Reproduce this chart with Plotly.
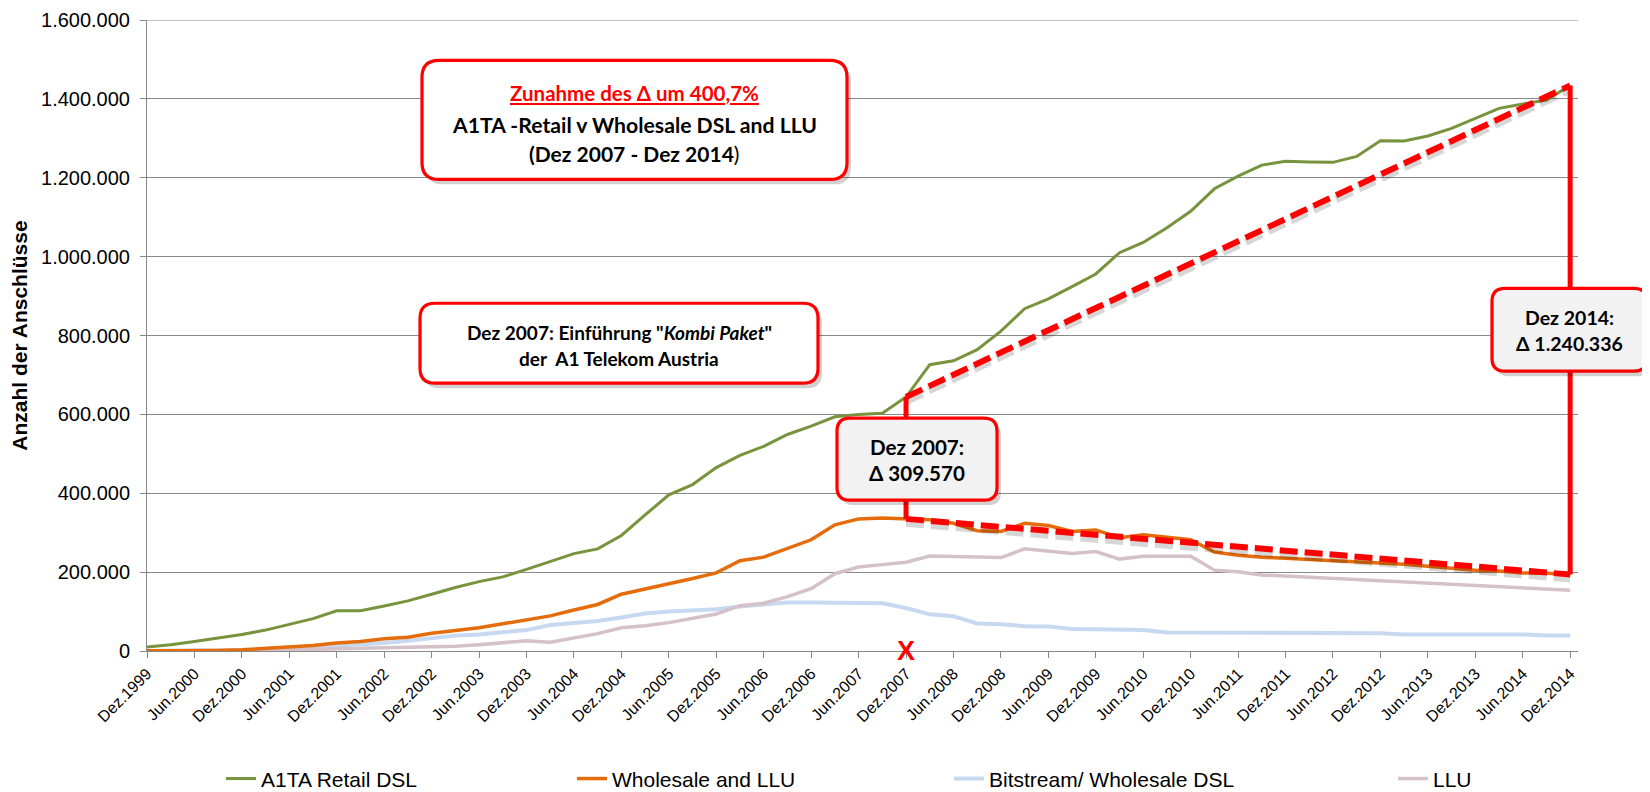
import plotly.graph_objects as go

# ---------------- data ----------------
quarters = [
    "Dez.1999",
    "Mär.2000", "Jun.2000", "Sep.2000", "Dez.2000",
    "Mär.2001", "Jun.2001", "Sep.2001", "Dez.2001",
    "Mär.2002", "Jun.2002", "Sep.2002", "Dez.2002",
    "Mär.2003", "Jun.2003", "Sep.2003", "Dez.2003",
    "Mär.2004", "Jun.2004", "Sep.2004", "Dez.2004",
    "Mär.2005", "Jun.2005", "Sep.2005", "Dez.2005",
    "Mär.2006", "Jun.2006", "Sep.2006", "Dez.2006",
    "Mär.2007", "Jun.2007", "Sep.2007", "Dez.2007",
    "Mär.2008", "Jun.2008", "Sep.2008", "Dez.2008",
    "Mär.2009", "Jun.2009", "Sep.2009", "Dez.2009",
    "Mär.2010", "Jun.2010", "Sep.2010", "Dez.2010",
    "Mär.2011", "Jun.2011", "Sep.2011", "Dez.2011",
    "Mär.2012", "Jun.2012", "Sep.2012", "Dez.2012",
    "Mär.2013", "Jun.2013", "Sep.2013", "Dez.2013",
    "Mär.2014", "Jun.2014", "Sep.2014", "Dez.2014",
]

tick_labels = [
    "Dez.1999", "Jun.2000", "Dez.2000", "Jun.2001", "Dez.2001", "Jun.2002",
    "Dez.2002", "Jun.2003", "Dez.2003", "Jun.2004", "Dez.2004", "Jun.2005",
    "Dez.2005", "Jun.2006", "Dez.2006", "Jun.2007", "Dez.2007", "Jun.2008",
    "Dez.2008", "Jun.2009", "Dez.2009", "Jun.2010", "Dez.2010", "Jun.2011",
    "Dez.2011", "Jun.2012", "Dez.2012", "Jun.2013", "Dez.2013", "Jun.2014",
    "Dez.2014",
]

retail_dsl = [
    10000, 16000, 24000, 33000, 42000, 53000, 68000, 82000, 102000, 102000,
    114000, 127000, 144000, 161000, 176000, 188000, 207000, 228000, 247000, 259000,
    293000, 345000, 396000, 422000, 465000, 496000, 519000, 549000, 570000, 594000,
    600000, 603000, 644000, 726000, 736000, 764000, 811000, 868000, 893000, 924000,
    956000, 1010000, 1036000, 1073000, 1115000, 1172000, 1204000, 1232000, 1242000, 1240000,
    1239000, 1254000, 1294000, 1293000, 1306000, 1325000, 1351000, 1376000, 1387000, 1397000,
    1434000,
]

wholesale_llu = [
    500, 500, 1000, 1500, 3000, 6000, 10000, 14000, 20000, 24000,
    31000, 35000, 45000, 52000, 59000, 69000, 80000, 89000, 104000, 118000,
    144000, 157000, 169000, 184000, 198000, 229000, 238000, 261000, 282000, 320000,
    335000, 337000, 335000, 333000, 324000, 305000, 303000, 324000, 318000, 303000,
    307000, 287000, 295000, 288000, 282000, 251000, 243000, 238000, 235000, 232000,
    230000, 228000, 224000, 220000, 215000, 209000, 205000, 203000, 198000, 197000,
    194000,
]

bitstream = [
    0, 0, 500, 1000, 2000, 4000, 7000, 10000, 13000, 17000,
    20000, 26000, 33000, 39000, 42000, 47000, 53000, 66000, 70000, 76000,
    85000, 95000, 100000, 102000, 106000, 113000, 118000, 123000, 123000, 123000,
    123000, 121000, 109000, 93000, 88000, 70000, 68000, 63000, 62000, 56000,
    55000, 53000, 53000, 47000, 47000, 46000, 45000, 45000, 45000, 45000,
    45000, 45000, 45000, 42000, 42000, 42000, 42000, 42000, 42000, 39000,
    39000,
]

llu = [
    0, 0, 500, 500, 1000, 2000, 3000, 4000, 5000, 6000,
    7000, 8000, 10000, 12000, 16000, 20000, 26000, 22000, 32000, 44000,
    59000, 64000, 72000, 84000, 94000, 115000, 121000, 138000, 158000, 196000,
    213000, 219000, 225000, 241000, 239000, 237000, 237000, 259000, 254000, 247000,
    252000, 233000, 240000, 240000, 240000, 205000, 201000, 193000, 190000, 188000,
    185000, 182000, 179000, 174000, 171000, 168000, 165000, 164000, 159000, 158000,
    154000,
]

series_names = ["A1TA Retail DSL", "Wholesale and LLU", "Bitstream/ Wholesale DSL", "LLU"]
y_ticks = [0, 200000, 400000, 600000, 800000, 1000000, 1200000, 1400000, 1600000]

start_q = "Dez.2007"
end_q = "Dez.2014"

# ---------------- styling ----------------
# the page body adds an 8px margin, so the figure is 8px smaller and all
# reference pixel positions (window coordinates) are shifted by OFF.
OFF = 8
W, H = 1650 - OFF, 792 - OFF
PL, PR, PT, PB = 147, 1578, 19.5, 651        # plot area in window pixels
Y_MAX = 1600000
SHADOW_PX = 4
GREEN = "#77933C"
ORANGE = "#E46C0A"
BLUE = "#C6D9F1"
MAUVE = "#D5C1C9"
RED = "#FF0000"
GRID = "#888888"
AX_FONT = "Liberation Sans, Arial, sans-serif"
BOX_FONT = "Lato, Carlito, Calibri, sans-serif"


def pxx(px):
    return (px - PL) / (PR - PL)


def pxy(py):
    return (PB - py) / (PB - PT)


def rrect_path(x0, y0, x1, y1, r):
    pts = [
        ("M", [(x0 + r, y0)]),
        ("L", [(x1 - r, y0)]),
        ("Q", [(x1, y0), (x1, y0 + r)]),
        ("L", [(x1, y1 - r)]),
        ("Q", [(x1, y1), (x1 - r, y1)]),
        ("L", [(x0 + r, y1)]),
        ("Q", [(x0, y1), (x0, y1 - r)]),
        ("L", [(x0, y0 + r)]),
        ("Q", [(x0, y0), (x0 + r, y0)]),
    ]
    s = ""
    for cmd, ps in pts:
        s += cmd + " ".join("%.5f,%.5f" % (pxx(a), pxy(b)) for a, b in ps) + " "
    return s + "Z"


fig = go.Figure()

i0 = quarters.index(start_q)
i1 = quarters.index(end_q)

# data lines (drawing order: light ones first)
fig.add_trace(go.Scatter(x=quarters, y=bitstream, mode="lines", name=series_names[2],
                         line=dict(color=BLUE, width=4), legend="legend3"))
fig.add_trace(go.Scatter(x=quarters, y=llu, mode="lines", name=series_names[3],
                         line=dict(color=MAUVE, width=3.5), legend="legend4"))
fig.add_trace(go.Scatter(x=quarters, y=wholesale_llu, mode="lines", name=series_names[1],
                         line=dict(color=ORANGE, width=3.5), legend="legend2"))
fig.add_trace(go.Scatter(x=quarters, y=retail_dsl, mode="lines", name=series_names[0],
                         line=dict(color=GREEN, width=3), legend="legend"))

# soft shadows of the dashed trend lines (on an overlay axis shifted a few px down)
for ser in (retail_dsl, wholesale_llu):
    fig.add_trace(go.Scatter(x=[quarters[i0], quarters[i1]], y=[ser[i0], ser[i1]],
                             yaxis="y2", mode="lines",
                             line=dict(color="rgba(0,0,0,0.16)", width=8, dash="18px,7px"),
                             showlegend=False, hoverinfo="skip"))

# vertical delta lines (overlay axis with the same scale, drawn on top)
for i in (i0, i1):
    fig.add_trace(go.Scatter(x=[quarters[i], quarters[i]], y=[retail_dsl[i], wholesale_llu[i]],
                             yaxis="y3", mode="lines", line=dict(color=RED, width=5),
                             showlegend=False, hoverinfo="skip"))

# dashed trend lines
for ser in (retail_dsl, wholesale_llu):
    fig.add_trace(go.Scatter(x=[quarters[i0], quarters[i1]], y=[ser[i0], ser[i1]],
                             yaxis="y3", mode="lines",
                             line=dict(color=RED, width=6, dash="18px,7px"),
                             showlegend=False, hoverinfo="skip"))

# ---------------- boxes ----------------
boxes = [
    # x0, y0, x1, y1, radius, fill   (window pixels)
    (422, 60, 847, 179, 17, "white"),
    (420, 303, 818, 383, 15, "white"),
    (837, 418, 997, 500, 13, "#F2F2F2"),
    (1492, 288, 1647, 371, 13, "#F2F2F2"),
]
shapes = []
for x0, y0, x1, y1, r, fill in boxes:
    shapes.append(dict(type="path", xref="paper", yref="paper", layer="above",
                       path=rrect_path(x0 + 4, y0 + 5, x1 + 4, y1 + 5, r),
                       fillcolor="rgba(0,0,0,0.18)", line=dict(width=0)))
    shapes.append(dict(type="path", xref="paper", yref="paper", layer="above",
                       path=rrect_path(x0, y0, x1, y1, r),
                       fillcolor=fill, line=dict(color=RED, width=3.2)))

texts = [
    (634, 93, "<b><u>Zunahme des Δ um 400,7%</u></b>", RED, 20.5),
    (634, 125, "<b>A1TA -Retail v Wholesale DSL and LLU</b>", "black", 21.2),
    (634, 153, "<b>(Dez 2007 - Dez 2014</b>)", "black", 21),
    (619, 332, "<b>Dez 2007: Einführung \"<i>Kombi Paket</i>\"</b>", "black", 19),
    (619, 358, "<b>der  A1 Telekom Austria</b>", "black", 19),
    (917, 447, "<b>Dez 2007:</b>", "black", 20.6),
    (917, 473, "<b>Δ 309.570</b>", "black", 20.6),
    (1569, 317, "<b>Dez 2014:</b>", "black", 19.5),
    (1569, 343, "<b>Δ 1.240.336</b>", "black", 19.5),
]
annotations = []
for x, y, t, c, s in texts:
    annotations.append(dict(x=pxx(x), y=pxy(y), xref="paper", yref="paper", text=t,
                            showarrow=False, xanchor="center", yanchor="middle",
                            font=dict(family=BOX_FONT, size=s, color=c)))

annotations.append(dict(x=start_q, y=0, xref="x", yref="paper", text="<b>X</b>",
                        showarrow=False, xanchor="center", yanchor="middle",
                        font=dict(family=AX_FONT, size=27, color=RED)))

legend_common = dict(orientation="h", yanchor="middle", xanchor="left", y=pxy(779),
                     font=dict(family=AX_FONT, size=21, color="black"),
                     bgcolor="rgba(0,0,0,0)", borderwidth=0)

shadow_shift = SHADOW_PX * Y_MAX / (PB - PT)
hidden_axis = dict(overlaying="y", visible=False, showgrid=False, zeroline=False,
                   fixedrange=True)

fig.update_layout(
    width=W, height=H,
    margin=dict(l=PL - OFF, r=W - (PR - OFF), t=PT - OFF, b=H - (PB - OFF), autoexpand=False),
    paper_bgcolor="white", plot_bgcolor="white",
    separators=",.",
    showlegend=True,
    legend=dict(x=pxx(261 - 40), **legend_common),
    legend2=dict(x=pxx(612 - 40), **legend_common),
    legend3=dict(x=pxx(989 - 40), **legend_common),
    legend4=dict(x=pxx(1433 - 40), **legend_common),
    shapes=shapes,
    annotations=annotations,
    xaxis=dict(
        type="category", range=[0, 60.33],
        tickmode="array", tickvals=tick_labels, ticktext=tick_labels,
        tickangle=-45, tickfont=dict(family=AX_FONT, size=16, color="black"),
        ticks="outside", ticklen=6, tickcolor=GRID, tickwidth=1,
        showline=True, linecolor=GRID, linewidth=1,
        showgrid=False, zeroline=False, automargin=False,
    ),
    yaxis=dict(
        range=[0, Y_MAX], tickmode="array", tickvals=y_ticks, tickformat=",d",
        tickfont=dict(family=AX_FONT, size=20, color="black"),
        ticks="outside", ticklen=6, tickcolor=GRID, tickwidth=1, ticklabelstandoff=6,
        ticklabeloverflow="allow",
        showline=True, linecolor=GRID, linewidth=1,
        showgrid=True, gridcolor=GRID, gridwidth=1, zeroline=False, automargin=False,
        title=dict(text="<b>Anzahl der Anschlüsse</b>", standoff=9,
                   font=dict(family=AX_FONT, size=21, color="black")),
    ),
    yaxis2=dict(range=[shadow_shift, Y_MAX + shadow_shift], **hidden_axis),
    yaxis3=dict(range=[0, Y_MAX], **hidden_axis),
)

# top gridline at the upper end of the value axis
fig.add_shape(type="line", xref="paper", yref="y", x0=0, x1=1, y0=Y_MAX, y1=Y_MAX,
              line=dict(color=GRID, width=1), layer="below")

fig.write_html("out.html")
